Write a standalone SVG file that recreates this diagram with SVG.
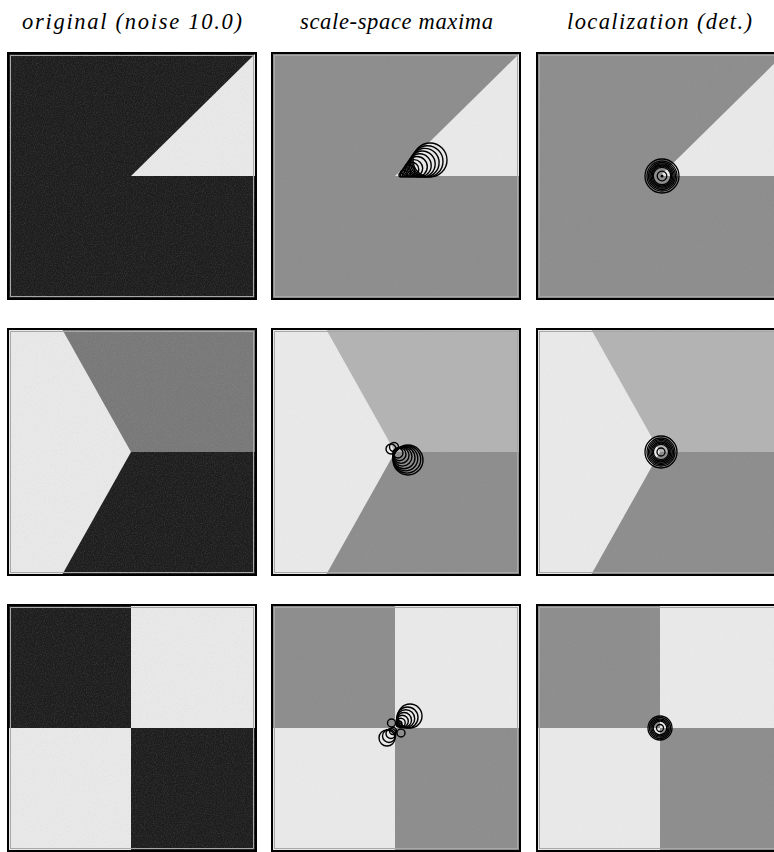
<svg xmlns="http://www.w3.org/2000/svg" width="774" height="852" viewBox="0 0 774 852">
<style>
.t{font-family:"Liberation Serif","DejaVu Serif",serif;font-style:italic;font-size:22.5px;fill:#000}
.dk{fill:#1d1d1d}.lt{fill:#e9e9e9}.g{fill:#8d8d8d}.lg{fill:#b3b3b3}.mg{fill:#787878}
.fr{fill:none;stroke:#000;stroke-width:2}
.fi{fill:none;stroke:#a8a8a8;stroke-width:1}
.c{fill:none;stroke:#000;stroke-width:1.4}
.cc{fill:none;stroke:#000;stroke-width:1.3}
.nz{filter:url(#noise)}
</style>
<defs>
<filter id="noise" x="0" y="0" width="100%" height="100%">
<feTurbulence type="fractalNoise" baseFrequency="0.9" numOctaves="2" seed="3"/>
<feColorMatrix type="matrix" values="0 0 0 0 0.5  0 0 0 0 0.5  0 0 0 0 0.5  0.9 0 0 0 -0.35"/>
</filter>
</defs>
<g id="titles">
<text class="t" x="22" y="29" textLength="220" lengthAdjust="spacing">original (noise 10.0)</text>
<text class="t" x="300" y="29" textLength="193" lengthAdjust="spacing">scale-space maxima</text>
<text class="t" x="567" y="29" textLength="185" lengthAdjust="spacing">localization (det.)</text>
</g>

<!-- Row 1 -->
<g id="r1c1">
<rect class="dk" x="8" y="53" width="248" height="246"/>
<polygon class="lt" points="131,176 256,53 256,176"/>
<rect class="nz" x="8" y="53" width="248" height="246" opacity="0.35"/>
<rect class="fr" x="8" y="53" width="248" height="246"/>
<rect class="fi" x="10.5" y="55.5" width="243" height="241"/>
</g>
<g id="r1c2">
<rect class="g" x="272" y="53" width="248" height="246"/>
<polygon class="lt" points="395,176 520,53 520,176"/>
<rect class="nz" x="272" y="53" width="248" height="246" opacity="0.2"/>
<rect class="fr" x="272" y="53" width="248" height="246"/>
<rect class="fi" x="274.5" y="55.5" width="243" height="241"/>
<g id="r1c2-maxima">
<circle class="c" cx="401" cy="175" r="2"/>
<circle class="c" cx="403.6" cy="173.6" r="3.4"/>
<circle class="c" cx="406.2" cy="172.3" r="4.7"/>
<circle class="c" cx="408.8" cy="171" r="6"/>
<circle class="c" cx="411.4" cy="169.6" r="7.4"/>
<circle class="c" cx="414" cy="168.3" r="8.7"/>
<circle class="c" cx="417" cy="166.8" r="10.3"/>
<circle class="c" cx="419.6" cy="165.4" r="11.6"/>
<circle class="c" cx="422.2" cy="164" r="13"/>
<circle class="c" cx="424.8" cy="162.7" r="14.3"/>
<circle class="c" cx="427.4" cy="161.4" r="15.6"/>
<circle class="c" cx="430" cy="160" r="17"/>
</g>
</g>
<g id="r1c3">
<rect class="g" x="537" y="53" width="248" height="246"/>
<polygon class="lt" points="660,176 785,53 785,176"/>
<rect class="nz" x="537" y="53" width="248" height="246" opacity="0.2"/>
<rect class="fr" x="537" y="53" width="248" height="246"/>
<rect class="fi" x="539.5" y="55.5" width="243" height="241"/>
<g id="r1c3-loc">
<circle class="cc" cx="662" cy="176" r="17"/>
<circle class="cc" cx="662" cy="176" r="15"/>
<circle class="cc" cx="662" cy="176" r="13.5"/>
<circle class="cc" cx="662" cy="176" r="12.2"/>
<circle class="cc" cx="662" cy="176" r="11"/>
<circle class="cc" cx="662" cy="176" r="9.8"/>
<circle class="cc" cx="662" cy="176" r="8.7"/>
<circle class="cc" cx="662" cy="176" r="4.8"/>
<circle cx="662" cy="176" r="1.5" fill="#000"/>
</g>
</g>

<!-- Row 2 -->
<g id="r2c1">
<rect class="lt" x="8" y="329" width="248" height="246"/>
<polygon class="mg" points="62,329 256,329 256,452 131,452"/>
<polygon class="dk" points="131,452 256,452 256,575 62,575"/>
<rect class="nz" x="8" y="329" width="248" height="246" opacity="0.35"/>
<rect class="fr" x="8" y="329" width="248" height="246"/>
<rect class="fi" x="10.5" y="331.5" width="243" height="241"/>
</g>
<g id="r2c2">
<rect class="lt" x="272" y="329" width="248" height="246"/>
<polygon class="lg" points="326,329 520,329 520,452 395,452"/>
<polygon class="g" points="395,452 520,452 520,575 326,575"/>
<rect class="nz" x="272" y="329" width="248" height="246" opacity="0.2"/>
<rect class="fr" x="272" y="329" width="248" height="246"/>
<rect class="fi" x="274.5" y="331.5" width="243" height="241"/>
<g id="r2c2-maxima">
<circle class="c" cx="391" cy="449" r="5"/>
<circle class="c" cx="394" cy="447" r="4.5"/>
<circle class="c" cx="398" cy="453" r="5"/>
<circle class="c" cx="399.5" cy="454.2" r="6.5"/>
<circle class="c" cx="401" cy="455.4" r="8"/>
<circle class="c" cx="402.5" cy="456.6" r="9.5"/>
<circle class="c" cx="404" cy="457.8" r="11"/>
<circle class="c" cx="405.5" cy="458.6" r="12.3"/>
<circle class="c" cx="407" cy="459.4" r="13.7"/>
<circle class="c" cx="408" cy="460" r="15"/>
</g>
</g>
<g id="r2c3">
<rect class="lt" x="537" y="329" width="248" height="246"/>
<polygon class="lg" points="591,329 785,329 785,452 660,452"/>
<polygon class="g" points="660,452 785,452 785,575 591,575"/>
<rect class="nz" x="537" y="329" width="248" height="246" opacity="0.2"/>
<rect class="fr" x="537" y="329" width="248" height="246"/>
<rect class="fi" x="539.5" y="331.5" width="243" height="241"/>
<g id="r2c3-loc">
<circle class="cc" cx="661" cy="452" r="16"/>
<circle class="cc" cx="661" cy="452" r="14"/>
<circle class="cc" cx="661" cy="452" r="12.6"/>
<circle class="cc" cx="661" cy="452" r="11.3"/>
<circle class="cc" cx="661" cy="452" r="10"/>
<circle class="cc" cx="661" cy="452" r="8.8"/>
<circle class="cc" cx="661" cy="452" r="7.6"/>
<circle class="cc" cx="661" cy="452" r="4"/>
</g>
</g>

<!-- Row 3 -->
<g id="r3c1">
<rect class="lt" x="8" y="605" width="248" height="246"/>
<rect class="dk" x="8" y="605" width="123" height="123"/>
<rect class="dk" x="131" y="728" width="125" height="123"/>
<rect class="nz" x="8" y="605" width="248" height="246" opacity="0.35"/>
<rect class="fr" x="8" y="605" width="248" height="246"/>
<rect class="fi" x="10.5" y="607.5" width="243" height="241"/>
</g>
<g id="r3c2">
<rect class="lt" x="272" y="605" width="248" height="246"/>
<rect class="g" x="272" y="605" width="123" height="123"/>
<rect class="g" x="395" y="728" width="125" height="123"/>
<rect class="nz" x="272" y="605" width="248" height="246" opacity="0.2"/>
<rect class="fr" x="272" y="605" width="248" height="246"/>
<rect class="fi" x="274.5" y="607.5" width="243" height="241"/>
<g id="r3c2-maxima">
<circle class="c" cx="399" cy="724" r="3"/>
<circle class="c" cx="400.7" cy="722.7" r="4.5"/>
<circle class="c" cx="402.3" cy="721.3" r="6"/>
<circle class="c" cx="404" cy="720" r="7.5"/>
<circle class="c" cx="405.7" cy="718.7" r="9"/>
<circle class="c" cx="407.5" cy="717.5" r="10.5"/>
<circle class="c" cx="410" cy="716" r="12"/>
<circle class="c" cx="391.5" cy="723" r="4"/>
<circle class="c" cx="401" cy="733" r="4"/>
<circle class="c" cx="393" cy="731" r="3.5"/>
<circle class="c" cx="391" cy="733.5" r="5"/>
<circle class="c" cx="389" cy="736" r="6.5"/>
<circle class="c" cx="387" cy="738" r="8"/>
</g>
</g>
<g id="r3c3">
<rect class="lt" x="537" y="605" width="248" height="246"/>
<rect class="g" x="537" y="605" width="123" height="123"/>
<rect class="g" x="660" y="728" width="125" height="123"/>
<rect class="nz" x="537" y="605" width="248" height="246" opacity="0.2"/>
<rect class="fr" x="537" y="605" width="248" height="246"/>
<rect class="fi" x="539.5" y="607.5" width="243" height="241"/>
<g id="r3c3-loc">
<circle class="cc" cx="660" cy="728" r="12"/>
<circle class="cc" cx="660" cy="728" r="10.5"/>
<circle class="cc" cx="660" cy="728" r="9.2"/>
<circle class="cc" cx="660" cy="728" r="8"/>
<circle class="cc" cx="660" cy="728" r="6.8"/>
<circle class="cc" cx="660" cy="728" r="3.5"/>
</g>
</g>
</svg>
